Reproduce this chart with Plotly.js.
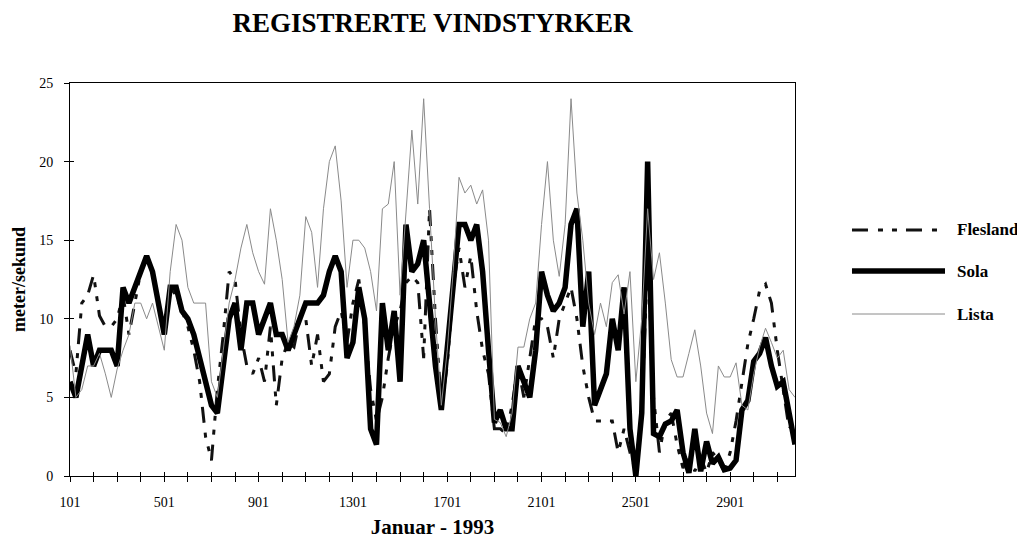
<!DOCTYPE html>
<html><head><meta charset="utf-8">
<script src="https://cdn.plot.ly/plotly-3.0.1.min.js"></script>
<style>html,body{margin:0;padding:0;background:#fff;} #chart{width:1017px;height:546px;}</style>
</head><body><div id="chart"></div>
<script>
const chartTitle = 'REGISTRERTE VINDSTYRKER';
const xTitle = 'Januar - 1993';
const yTitle = 'meter/sekund';
const seriesNames = ['Flesland', 'Sola', 'Lista'];
const hoursOfDay = ['01', '07', '13', '19'];
const tickLabels = ['101', '501', '901', '1301', '1701', '2101', '2501', '2901'];
const yTicks = [0, 5, 10, 15, 20, 25];

const flesland = [
  8, 6.5, 11, 11.5,   12.8, 10.2, 9.5, 9.5,   10, 11.5, 9, 11,   13, 14, 13, 11,
  9, 12, 11.5, 10.5,  9.5, 8, 6, 2.5,         1, 5.5, 9, 13,     12.5, 9, 7, 6.5,
  7.5, 6, 9.5, 4.5,   7.5, 8.5, 8.2, 10,      10, 7, 9, 6,       6.5, 9.5, 10.5, 8.5,
  11, 12.5, 9.5, 5.5, 3.5, 5, 7.5, 9.5,       10.5, 12.3, 12.7, 12.3, 7.5, 17, 10, 4.5,
  7, 12, 14.5, 12,    14, 10.5, 8, 6.5,       3, 3, 2.7, 4.5,    7, 5, 7.5, 10,
  10, 9.5, 7.5, 10,   11, 12, 10, 7,          5, 3.5, 3.5, 3.5,  3.5, 1.5, 3, 1.5,
  0.3, 4, 14, 5,      1.5, 3.5, 4, 2,         0.5, 1.5, 0.3, 1.2, 0.2, 1.5, 1, 0.3,
  1.5, 3.5, 5.8, 8.4, 10, 11.8, 12.2, 11,     8, 5.5, 3, 3.5
];
const sola = [
  6, 5, 7, 9,         7, 8, 8, 8,             7, 12, 11, 12,     13, 14, 13, 11,
  9, 12, 12, 10.5,    10, 9, 7.5, 6,          4.5, 4, 7, 10,     11, 8, 11, 11,
  9, 10, 11, 9,       9, 8, 9, 10,            11, 11, 11, 11.5,  13, 14, 13, 7.5,
  8.5, 12, 10, 3,     2, 11, 8, 10.5,         6, 16, 13, 13.5,   15, 11, 7, 4.2,
  8, 12, 16, 16,      15, 16, 13, 8,          3.4, 4.2, 3, 3,    7, 6, 5, 8,
  13, 11.5, 10.5, 11, 12, 16, 17, 9.5,        13, 4.5, 5.5, 6.5, 10, 8, 12, 3,
  0, 4, 20, 2.7,      2.5, 3.3, 3.5, 4.2,     1.5, 0.2, 3, 0.3,  2.2, 0.8, 1.2, 0.4,
  0.5, 1, 4.2, 4.8,   7.3, 7.8, 8.8, 7,       5.7, 6, 4, 2
];
const lista = [
  8.3, 5, 5.5, 7,     7, 7.8, 6.5, 5,         6.8, 8, 9, 11,     11, 10, 11, 9.5,
  8, 13, 16, 15,      12, 11, 11, 11,         6, 5, 8, 11,       12.5, 14.5, 16, 14.2,
  13, 12.2, 17, 15,   12.5, 8.5, 9.5, 11.5,   16.5, 15.5, 12, 17, 20, 21, 17.5, 12,
  15, 15, 14.5, 13,   10.5, 17, 17.3, 20,     11.5, 17, 22, 17.3, 24, 17, 10, 4.5,
  8, 13, 19, 18,      18.5, 17.3, 18.2, 15,   3.6, 3.4, 2.5, 4,  8.2, 8.2, 10, 11,
  16, 20, 15, 12.7,   16, 24, 18, 15,         11, 9, 11, 9.5,    12.3, 12.8, 10.3, 13,
  6, 10, 17, 12.5,    14.2, 11, 7.4, 6.3,     6.3, 7.8, 9.3, 7,  4, 2.7, 7, 6.3,
  6.3, 7.2, 4.5, 4.2, 6.5, 8.2, 9.4, 8.5,     7.5, 8, 5.5, 5
];

// observation labels DDHH (day + hour), four per day
const obsTimes = [];
for (let d = 1; d <= 31; d++) for (const h of hoursOfDay) obsTimes.push(String(d) + h);
function toDay(lbl) { const n = parseInt(lbl, 10); return Math.floor(n / 100) + (n % 100 - 1) / 24; }
const xs = obsTimes.map(toDay);
const tickVals = tickLabels.map(toDay);
const xRange = [xs[0], xs[xs.length - 1]];

const serif = 'Liberation Serif, Times New Roman, serif';
const styles = [
  {color: '#111', width: 3, dash: '16px,10px,5px,9px,5px,9px'},
  {color: '#000', width: 5.5, dash: 'solid'},
  {color: '#8a8a8a', width: 1, dash: 'solid'}
];
const seriesData = [flesland, sola, lista];

const traces = seriesData.map((ys, k) => ({
  x: xs, y: ys, name: seriesNames[k], type: 'scatter', mode: 'lines',
  line: styles[k], showlegend: false, hoverinfo: 'skip'
}));
// invisible copy on the overlay axes so that their inner tick marks are drawn
traces.unshift({
  x: xs, y: sola, xaxis: 'x2', yaxis: 'y2', type: 'scatter', mode: 'lines',
  line: {width: 0, color: 'rgba(0,0,0,0)'}, opacity: 0, showlegend: false, hoverinfo: 'skip'
});

// manual legend (long line samples like the original)
const legY = [0.626, 0.5216, 0.4122];
const shapes = seriesNames.map((n, k) => ({
  type: 'line', xref: 'paper', yref: 'paper', x0: 1.0786, x1: 1.2069, y0: legY[k], y1: legY[k],
  line: styles[k]
}));
const annotations = seriesNames.map((n, k) => ({
  xref: 'paper', yref: 'paper', x: 1.2207, y: legY[k], xanchor: 'left', yanchor: 'middle',
  text: n, showarrow: false, font: {family: serif, size: 17, color: '#000', weight: 'bold'}
}));

const tickCommon = {tickcolor: '#000', tickwidth: 1, showgrid: false, zeroline: false};

const layout = {
  width: 1017, height: 546,
  margin: {l: 70, r: 222, t: 83, b: 70},
  paper_bgcolor: '#fff', plot_bgcolor: '#fff',
  font: {family: serif, size: 14, color: '#000'},
  title: {text: chartTitle, x: 0.5, xref: 'paper', xanchor: 'center', y: 0.958, yanchor: 'middle',
          font: {family: serif, size: 27, color: '#000', weight: 'bold'}},
  xaxis: Object.assign({
    range: xRange, tickmode: 'array', tickvals: tickVals, ticktext: tickLabels,
    ticks: 'outside', ticklen: 5,
    minor: {dtick: 1, tick0: 1, ticks: 'outside', ticklen: 5, tickcolor: '#000', tickwidth: 1, showgrid: false},
    showline: true, linecolor: '#000', linewidth: 1, mirror: true,
    tickfont: {family: serif, size: 14, color: '#000'}, ticklabelstandoff: 8,
    title: {text: xTitle, standoff: 10, font: {family: serif, size: 21, color: '#000', weight: 'bold'}}
  }, tickCommon),
  yaxis: Object.assign({
    range: [0, 25], tickmode: 'array', tickvals: yTicks,
    ticks: 'outside', ticklen: 5,
    showline: true, linecolor: '#000', linewidth: 1, mirror: true,
    tickfont: {family: serif, size: 14, color: '#000'}, ticklabelstandoff: 8,
    title: {text: yTitle, standoff: 8, font: {family: serif, size: 18, color: '#000', weight: 'bold'}}
  }, tickCommon),
  // overlay axes that add the inner half of the crossing tick marks
  xaxis2: Object.assign({
    overlaying: 'x', anchor: 'y', side: 'bottom', range: xRange,
    tickmode: 'linear', tick0: 1, dtick: 1, ticks: 'inside', ticklen: 4,
    showticklabels: false, showline: false
  }, tickCommon),
  yaxis2: Object.assign({
    overlaying: 'y', anchor: 'x', side: 'left', range: [0, 25],
    tickmode: 'array', tickvals: yTicks, ticks: 'inside', ticklen: 4,
    showticklabels: false, showline: false
  }, tickCommon),
  shapes: shapes,
  annotations: annotations
};

Plotly.newPlot('chart', traces, layout, {staticPlot: true, displayModeBar: false});
</script>
</body></html>
